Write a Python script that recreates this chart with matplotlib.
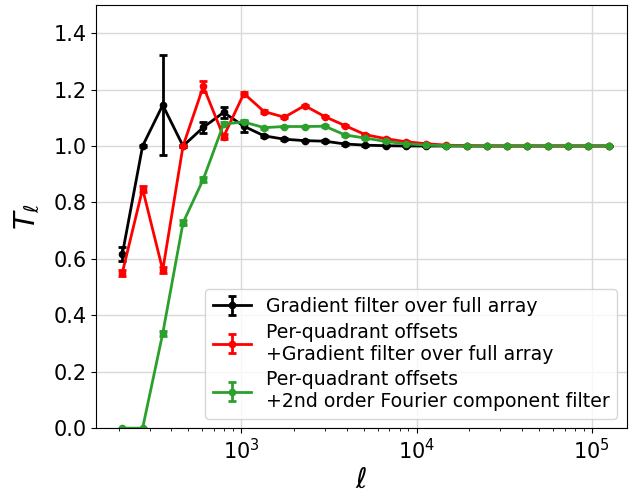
import matplotlib
matplotlib.use('Agg')
import matplotlib.pyplot as plt
import numpy as np

# multipole bins
ell = [210, 274, 357, 466, 608, 794, 1036, 1352, 1764, 2301, 3003, 3918,
       5112, 6671, 8704, 11357, 14818, 19339, 25228, 32918, 42954, 56050,
       73130, 95435, 124520]

# transfer function, gradient filter over full array
t_grad = [0.617, 1.000, 1.145, 1.000, 1.066, 1.119, 1.070, 1.036, 1.024, 1.019,
          1.017, 1.007, 1.003, 1.001, 1.000, 1.000, 1.000, 1.000, 1.000, 1.000,
          1.000, 1.000, 1.000, 1.000, 1.000]
e_grad = [0.025, 0.004, 0.178, 0.004, 0.02, 0.02, 0.02, 0.004, 0.003, 0.003,
          0.003, 0.002, 0.002, 0.002, 0.001, 0.001, 0.001, 0.001, 0.001, 0.001,
          0.001, 0.001, 0.001, 0.001, 0.001]

# per-quadrant offsets + gradient filter
t_quad = [0.551, 0.848, 0.560, 1.000, 1.211, 1.033, 1.186, 1.122, 1.102, 1.143,
          1.104, 1.072, 1.040, 1.026, 1.015, 1.008, 1.003, 1.001, 1.000, 1.000,
          1.000, 1.000, 1.000, 1.000, 1.000]
e_quad = [0.01, 0.01, 0.01, 0.005, 0.02, 0.008, 0.006, 0.004, 0.003, 0.003,
          0.003, 0.002, 0.002, 0.002, 0.001, 0.001, 0.001, 0.001, 0.001, 0.001,
          0.001, 0.001, 0.001, 0.001, 0.001]

# per-quadrant offsets + 2nd order Fourier filter
t_four = [0.000, 0.000, 0.336, 0.728, 0.882, 1.078, 1.085, 1.065, 1.069, 1.069,
          1.070, 1.039, 1.028, 1.016, 1.008, 1.003, 1.001, 1.000, 1.000, 1.000,
          1.000, 1.000, 1.000, 1.000, 1.000]
e_four = [0.002, 0.002, 0.008, 0.008, 0.008, 0.008, 0.006, 0.004, 0.003, 0.003,
          0.003, 0.002, 0.002, 0.002, 0.001, 0.001, 0.001, 0.001, 0.001, 0.001,
          0.001, 0.001, 0.001, 0.001, 0.001]

labels = ['Gradient filter over full array',
          'Per-quadrant offsets\n+Gradient filter over full array',
          'Per-quadrant offsets\n+2nd order Fourier component filter']

fig, ax = plt.subplots(figsize=(6.33, 4.91), dpi=100)
fig.subplots_adjust(left=0.152, right=0.99, top=0.99, bottom=0.128)

for t, e, c, lab in zip([t_grad, t_quad, t_four], [e_grad, e_quad, e_four],
                        ['k', 'r', 'tab:green'], labels):
    ax.errorbar(ell, t, yerr=e, color=c, marker='o', markersize=4.5,
                linewidth=2, elinewidth=2, capsize=3, capthick=2, label=lab)

ax.set_xscale('log')
ax.set_xlim(149, 1.58e5)
ax.set_ylim(0, 1.5)
ax.set_yticks(np.arange(0, 1.41, 0.2))
ax.grid(True, color='#d9d9d9', linewidth=1)
ax.tick_params(labelsize=15)
ax.set_xlabel(r'$\ell$', fontsize=20, labelpad=2)
ax.set_ylabel(r'$T_\ell$', fontsize=21, labelpad=8)
ax.legend(loc='lower right', fontsize=13.6, handlelength=2.0,
          labelspacing=0.35, borderaxespad=0.5)

fig.savefig('out.png', dpi=100)
